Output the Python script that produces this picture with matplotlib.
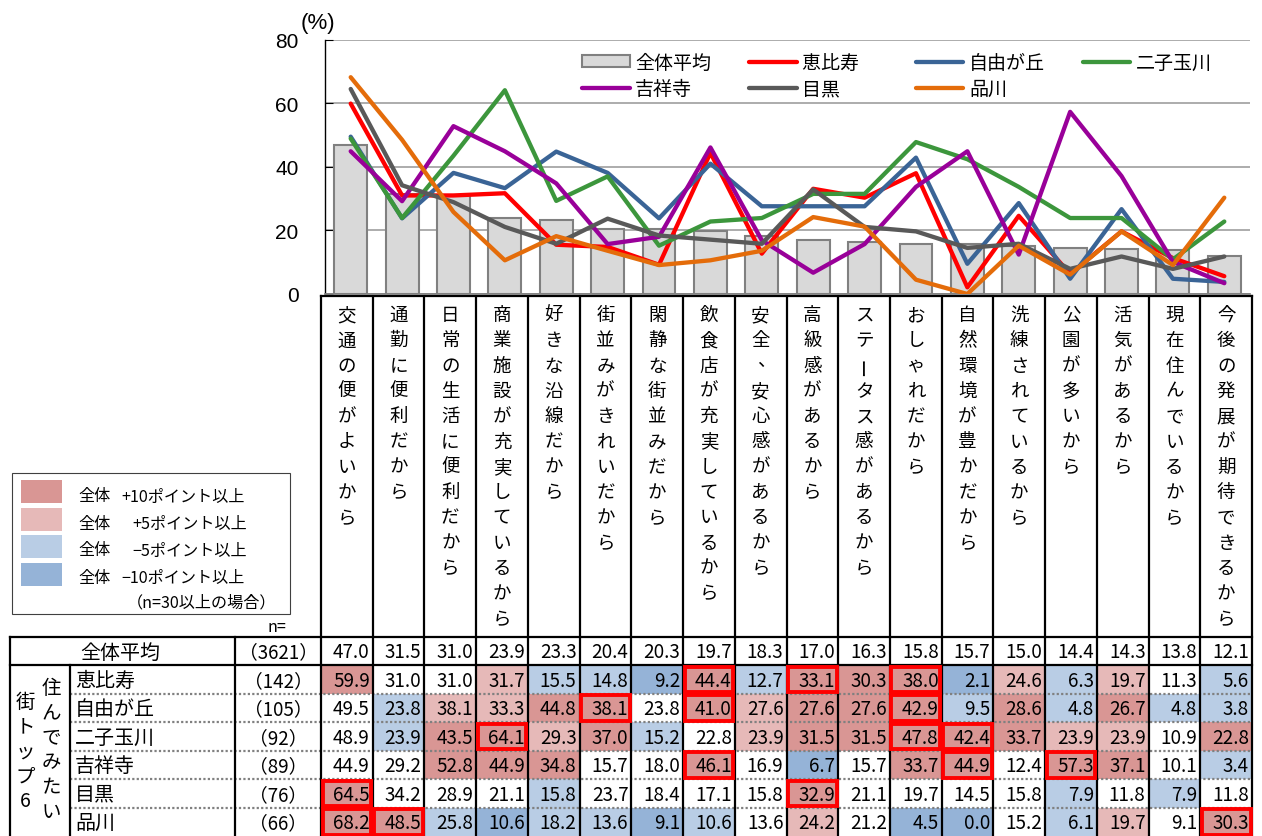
import numpy as np
import matplotlib
matplotlib.use('Agg')
import matplotlib.pyplot as plt
from matplotlib.patches import Rectangle

plt.rcParams['font.family'] = ['Noto Sans CJK JP', 'DejaVu Sans']

# ---------------- data ----------------
reasons = ['交通の便がよいから', '通勤に便利だから', '日常の生活に便利だから',
           '商業施設が充実しているから', '好きな沿線だから', '街並みがきれいだから',
           '閑静な街並みだから', '飲食店が充実しているから', '安全、安心感があるから',
           '高級感があるから', 'ステータス感があるから', 'おしゃれだから',
           '自然環境が豊かだから', '洗練されているから', '公園が多いから',
           '活気があるから', '現在住んでいるから', '今後の発展が期待できるから']
towns = ['恵比寿', '自由が丘', '二子玉川', '吉祥寺', '目黒', '品川']
n_all = 3621
n_towns = [142, 105, 92, 89, 76, 66]

avg = [47.0, 31.5, 31.0, 23.9, 23.3, 20.4, 20.3, 19.7, 18.3, 17.0, 16.3, 15.8, 15.7, 15.0, 14.4, 14.3, 13.8, 12.1]
ebisu = [59.9, 31.0, 31.0, 31.7, 15.5, 14.8, 9.2, 44.4, 12.7, 33.1, 30.3, 38.0, 2.1, 24.6, 6.3, 19.7, 11.3, 5.6]
jiyugaoka = [49.5, 23.8, 38.1, 33.3, 44.8, 38.1, 23.8, 41.0, 27.6, 27.6, 27.6, 42.9, 9.5, 28.6, 4.8, 26.7, 4.8, 3.8]
futako = [48.9, 23.9, 43.5, 64.1, 29.3, 37.0, 15.2, 22.8, 23.9, 31.5, 31.5, 47.8, 42.4, 33.7, 23.9, 23.9, 10.9, 22.8]
kichijoji = [44.9, 29.2, 52.8, 44.9, 34.8, 15.7, 18.0, 46.1, 16.9, 6.7, 15.7, 33.7, 44.9, 12.4, 57.3, 37.1, 10.1, 3.4]
meguro = [64.5, 34.2, 28.9, 21.1, 15.8, 23.7, 18.4, 17.1, 15.8, 32.9, 21.1, 19.7, 14.5, 15.8, 7.9, 11.8, 7.9, 11.8]
shinagawa = [68.2, 48.5, 25.8, 10.6, 18.2, 13.6, 9.1, 10.6, 13.6, 24.2, 21.2, 4.5, 0.0, 15.2, 6.1, 19.7, 9.1, 30.3]
town_vals = [ebisu, jiyugaoka, futako, kichijoji, meguro, shinagawa]

# 赤枠のセル (列番号)
boxed = [[7, 9, 11], [5, 7, 11], [3, 11, 12], [7, 12, 14], [0, 9], [0, 1, 17]]

line_colors = ['#FF0000', '#3A6496', '#3C963C', '#990099', '#595959', '#E46C0A']
c_up10, c_up5, c_dn5, c_dn10 = '#D99694', '#E6B9B8', '#B9CDE5', '#95B3D7'

# ---------------- layout (pixels) ----------------
W, H = 1262, 837
tab_l, tab_r = 321, 1252
col_w = (tab_r - tab_l) / len(reasons)
head_top, head_bot, avg_bot = 297, 638, 666
row_h = (H - avg_bot) / len(towns)

fig = plt.figure(figsize=(W / 100, H / 100), dpi=100)
tb = fig.add_axes([0, 0, 1, 1])
tb.set_xlim(0, W)
tb.set_ylim(H, 0)
tb.axis('off')


def cell_color(v, a):
    d = v - a
    if d >= 10:
        return c_up10
    if d >= 5:
        return c_up5
    if d <= -10:
        return c_dn10
    if d <= -5:
        return c_dn5
    return 'white'


def vtext(x, y0, s, step, size):
    for i, ch in enumerate(s):
        if ch == 'ー':
            tb.text(x, y0 + i * step, ch, ha='center', va='center', fontsize=size, rotation=90)
        elif ch == '、':
            tb.text(x + 6, y0 + i * step - 6, ch, ha='center', va='center', fontsize=size)
        else:
            tb.text(x, y0 + i * step, ch, ha='center', va='center', fontsize=size)


# header (vertical text)
for j, r in enumerate(reasons):
    vtext(tab_l + (j + 0.5) * col_w, 316, r, 25.3, 13.3)

# body cells
num_fs = 13.6
for i, vals in enumerate(town_vals):
    y0 = avg_bot + i * row_h
    for j, v in enumerate(vals):
        tb.add_patch(Rectangle((tab_l + j * col_w, y0), col_w, row_h,
                               facecolor=cell_color(v, avg[j]), edgecolor='none'))
        tb.text(tab_l + (j + 1) * col_w - 3, y0 + row_h / 2 + 1, f'{v:.1f}',
                ha='right', va='center', fontsize=num_fs)
    tb.text(75, y0 + row_h / 2 + 1, towns[i], ha='left', va='center', fontsize=14.4)
    tb.text(278, y0 + row_h / 2 + 1, f'（{n_towns[i]}）', ha='center', va='center', fontsize=13.5)

for j, v in enumerate(avg):
    tb.text(tab_l + (j + 1) * col_w - 3, (head_bot + avg_bot) / 2 + 1, f'{v:.1f}',
            ha='right', va='center', fontsize=num_fs)
tb.text(120, (head_bot + avg_bot) / 2 + 1, '全体平均', ha='center', va='center', fontsize=14.4)
tb.text(278, (head_bot + avg_bot) / 2 + 1, f'（{n_all}）', ha='center', va='center', fontsize=13.5)

vtext(25, 702, '街トップ6', 25, 14)
vtext(51, 688, '住んでみたい', 25, 14)

# grid lines of the table
lw_b = 1.6
for i in range(1, len(towns)):
    y = avg_bot + i * row_h
    tb.plot([70, tab_r], [y, y], color='#808080', lw=1.6, ls=(0, (1, 1)))
tb.plot([tab_l, tab_r], [head_top, head_top], color='black', lw=lw_b)
tb.plot([10, tab_r], [head_bot, head_bot], color='black', lw=lw_b)
tb.plot([10, tab_r], [avg_bot, avg_bot], color='black', lw=lw_b)
for k in range(len(reasons) + 1):
    x = tab_l + k * col_w
    tb.plot([x, x], [head_top, H], color='black', lw=lw_b)
tb.plot([10, 10], [head_bot, H], color='black', lw=lw_b)
tb.plot([70, 70], [avg_bot, H], color='black', lw=lw_b)
tb.plot([235, 235], [head_bot, H], color='black', lw=lw_b)

# red boxes
for i, cols in enumerate(boxed):
    for j in cols:
        tb.add_patch(Rectangle((tab_l + j * col_w + 1.5, avg_bot + i * row_h + 1.5),
                               col_w - 3, row_h - 3, facecolor='none',
                               edgecolor='#FF0000', lw=2.8, zorder=5))

# colour key
tb.add_patch(Rectangle((12, 474), 278, 141, facecolor='white', edgecolor='#404040', lw=0.8))
key_cols = [c_up10, c_up5, c_dn5, c_dn10]
key_text = ['+10ポイント以上', '+5ポイント以上', '−5ポイント以上', '−10ポイント以上']
key_x = [121, 132, 132, 121]
for k in range(4):
    tb.add_patch(Rectangle((21, 481 + k * 27.5), 41, 23, facecolor=key_cols[k], edgecolor='none'))
    tb.text(78, 497 + k * 27, '全体', ha='left', va='center', fontsize=11.6)
    tb.text(key_x[k], 497 + k * 27, key_text[k], ha='left', va='center', fontsize=11.6)
tb.text(127, 603, '（n=30以上の場合）', ha='left', va='center', fontsize=11.6)
tb.text(277, 628, 'n=', ha='center', va='center', fontsize=11.6)

# ---------------- chart ----------------
ax = fig.add_axes([325 / W, 1 - 295 / H, 925 / W, 254.3 / H])
ax.set_facecolor('none')
x = np.arange(len(reasons))
bars = ax.bar(x, avg, width=0.64, color='#D9D9D9', edgecolor='#808080', lw=1.5, zorder=2)
lines = []
for vals, c in zip(town_vals, line_colors):
    ln, = ax.plot(x, vals, color=c, lw=3.1, solid_joinstyle='round', solid_capstyle='round', zorder=3)
    lines.append(ln)

ax.set_xlim(-0.5, len(reasons) - 0.5)
ax.set_ylim(0, 80)
ax.set_yticks([0, 20, 40, 60, 80])
ax.set_xticks([])
ax.yaxis.grid(True, color='#A6A6A6', lw=1.3, zorder=0)
ax.set_axisbelow(True)
for s in ['top', 'right']:
    ax.spines[s].set_visible(False)
ax.spines['bottom'].set_color('#808080')
ax.spines['bottom'].set_linewidth(1.3)
ax.spines['left'].set_linewidth(1.0)
ax.tick_params(axis='y', direction='in', length=6, pad=19, labelsize=15)
for lab in ax.get_yticklabels():
    lab.set_family('Liberation Sans')
fig.text(318 / W, 1 - 24 / H, '(%)', ha='center', va='center', fontsize=16, family='Liberation Sans')

# legend, column-major order
handles = [bars, lines[3], lines[0], lines[4], lines[1], lines[5], lines[2]]
labels = ['全体平均', '吉祥寺', '恵比寿\u3000', '目黒', '自由が丘', '品川', '二子玉川']
ax.legend(handles, labels, ncol=4, loc='upper left', bbox_to_anchor=(582 / W, 1 - 53 / H),
          bbox_transform=fig.transFigure, frameon=False, fontsize=13.7, handlelength=2.5,
          handletextpad=0.3, columnspacing=1.98, borderpad=0, borderaxespad=0,
          labelspacing=0.28, handleheight=0.6)

fig.savefig('out.png', dpi=100)
